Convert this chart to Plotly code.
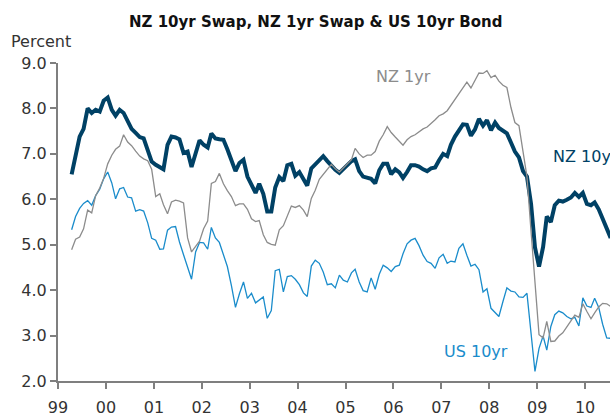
import pandas as pd
import plotly.graph_objects as go

# ---- data (monthly, Apr 1999 - Jul 2010) ----
start_month = "1999-04-01"
n_months = 136
dates = pd.date_range(start_month, periods=n_months, freq="MS") + pd.Timedelta(days=14)

nz10 = [6.55,7.00,7.38,7.55,8.00,7.90,7.97,7.93,8.17,8.24,
        7.97,7.84,7.97,7.90,7.70,7.55,7.46,7.37,7.34,7.10,
        6.83,6.76,6.72,6.66,7.20,7.38,7.36,7.32,7.02,7.05,
        6.71,7.00,7.30,7.20,7.14,7.45,7.34,7.32,7.31,7.10,
        6.88,6.62,6.80,6.87,6.50,6.33,6.14,6.34,6.12,5.73,
        5.73,6.26,6.49,6.40,6.75,6.78,6.52,6.60,6.43,6.30,
        6.68,6.76,6.86,6.95,6.84,6.74,6.65,6.58,6.66,6.75,
        6.84,6.88,6.62,6.50,6.48,6.45,6.35,6.64,6.78,6.78,
        6.55,6.66,6.59,6.47,6.60,6.75,6.75,6.72,6.66,6.62,
        6.68,6.70,6.86,7.00,6.95,7.20,7.38,7.52,7.65,7.64,
        7.40,7.54,7.77,7.62,7.74,7.52,7.69,7.57,7.52,7.45,
        7.25,7.05,6.92,6.62,6.50,5.90,4.94,4.52,4.95,5.62,
        5.50,5.87,5.97,5.95,5.99,6.04,6.14,6.05,6.14,5.90,
        5.87,5.93,5.78,5.58,5.36,5.15]

nz1 = [4.89,5.12,5.17,5.35,5.76,5.70,6.08,6.25,6.46,6.78,
       6.97,7.10,7.17,7.42,7.26,7.18,7.06,6.95,6.89,6.85,
       6.66,6.06,6.12,5.88,5.68,5.94,5.98,5.96,5.92,5.15,
       4.84,4.95,5.08,5.35,5.52,6.35,6.39,6.57,6.34,6.19,
       6.06,5.86,5.90,5.90,5.78,5.57,5.51,5.53,5.22,5.05,
       5.01,4.99,5.33,5.42,5.64,5.85,5.82,5.86,5.76,5.62,
       6.02,6.20,6.44,6.55,6.67,6.77,6.67,6.60,6.69,6.78,
       6.87,7.12,7.00,6.92,6.97,6.97,7.05,7.28,7.42,7.60,
       7.47,7.37,7.27,7.19,7.31,7.38,7.42,7.48,7.55,7.59,
       7.66,7.75,7.84,7.88,7.95,8.07,8.20,8.33,8.48,8.58,
       8.45,8.63,8.78,8.77,8.83,8.68,8.73,8.60,8.51,8.46,
       8.02,7.69,7.62,7.05,6.50,5.30,4.07,3.02,2.95,3.31,
       2.87,2.88,2.99,3.06,3.19,3.33,3.45,3.40,3.70,3.53,
       3.37,3.50,3.63,3.71,3.70,3.64]

us10 = [5.33,5.62,5.80,5.91,5.97,5.87,6.08,6.22,6.45,6.60,
        6.36,6.01,6.23,6.26,6.05,6.03,5.74,5.77,5.74,5.48,
        5.14,5.10,4.90,4.91,5.32,5.39,5.40,5.06,4.78,4.50,
        4.24,4.84,5.05,5.04,4.90,5.38,5.15,5.05,4.80,4.52,
        4.10,3.62,3.92,4.18,3.82,3.93,3.72,3.78,3.85,3.38,
        3.55,4.43,4.46,3.96,4.30,4.32,4.24,4.12,3.94,3.86,
        4.53,4.66,4.59,4.40,4.12,4.14,4.05,4.33,4.22,4.18,
        4.38,4.46,4.18,3.99,3.96,4.27,4.02,4.35,4.55,4.49,
        4.41,4.52,4.55,4.80,5.02,5.10,5.14,4.98,4.77,4.63,
        4.59,4.48,4.71,4.79,4.59,4.64,4.62,4.92,5.02,4.77,
        4.53,4.57,4.45,3.96,4.03,3.60,3.50,3.42,3.75,4.05,
        3.98,3.96,3.85,3.84,3.93,3.05,2.21,2.72,2.99,2.68,
        3.20,3.46,3.54,3.50,3.42,3.37,3.40,3.21,3.83,3.65,
        3.62,3.82,3.62,3.25,2.95,2.94]

series_names = ["NZ 10yr", "US 10yr", "NZ 1yr"]
title_text = "NZ 10yr Swap, NZ 1yr Swap & US 10yr Bond"
y_title = "Percent"

# ---- styling ----
C_NZ10 = "#004165"
C_NZ1 = "#8c8c8c"
C_US10 = "#1a8ccb"
FONT = "DejaVu Sans"

W, H = 610, 417
ML, MR, MT, MB = 58, 0, 63, 30
PW, PH = W - ML - MR, H - MT - MB


def px(xp):
    return (xp - ML) / PW


def py(yp):
    return (H - MB - yp) / PH


fig = go.Figure()
fig.add_trace(go.Scatter(x=dates, y=nz10, mode="lines", name=series_names[0],
                         line=dict(color=C_NZ10, width=4)))
fig.add_trace(go.Scatter(x=dates, y=us10, mode="lines", name=series_names[1],
                         line=dict(color=C_US10, width=1.3)))
fig.add_trace(go.Scatter(x=dates, y=nz1, mode="lines", name=series_names[2],
                         line=dict(color=C_NZ1, width=1.3)))

ann = [
    dict(text="<b>" + title_text + "</b>", x=px(316), y=py(21), xanchor="center",
         yanchor="middle", font=dict(size=15, color="#111111", family=FONT)),
    dict(text=y_title, x=px(9), y=py(41), xanchor="left", yanchor="middle",
         font=dict(size=16, color="#333333", family=FONT)),
    dict(text="NZ 1yr", x=px(374), y=py(77), xanchor="left", yanchor="middle",
         font=dict(size=16, color=C_NZ1, family=FONT)),
    dict(text="NZ 10yr", x=px(551), y=py(158), xanchor="left", yanchor="middle",
         font=dict(size=16, color=C_NZ10, family=FONT)),
    dict(text="US 10yr", x=px(442), y=py(357), xanchor="left", yanchor="middle",
         font=dict(size=16, color=C_US10, family=FONT)),
]
for a in ann:
    a.update(xref="paper", yref="paper", showarrow=False)

fig.update_layout(
    width=W, height=H, autosize=False,
    margin=dict(l=ML, r=MR, t=MT, b=MB, pad=0),
    paper_bgcolor="white", plot_bgcolor="white",
    showlegend=False,
    font=dict(family=FONT, size=16, color="#333333"),
    annotations=ann,
)
fig.update_xaxes(
    type="date", range=["1999-01-01", "2010-07-10"],
    tick0="1999-01-01", dtick="M12", tickformat="%y",
    ticks="outside", ticklen=6, tickwidth=1.5, tickcolor="#7f7f7f",
    ticklabelstandoff=5,
    showline=True, linecolor="#7f7f7f", linewidth=2,
    showgrid=False, zeroline=False,
    tickfont=dict(size=16, color="#333333", family=FONT),
)
fig.update_yaxes(
    range=[2, 9], dtick=1, tick0=2, tickformat=".1f",
    ticks="outside", ticklen=6, tickwidth=1.5, tickcolor="#7f7f7f",
    showline=True, linecolor="#7f7f7f", linewidth=2,
    showgrid=False, zeroline=False,
    tickfont=dict(size=16, color="#333333", family=FONT),
)

fig.write_html(
    "out.html",
    config={"displayModeBar": False},
    post_script="document.body.style.margin='0';document.body.style.padding='0';"
                "document.body.style.overflow='hidden';",
)
